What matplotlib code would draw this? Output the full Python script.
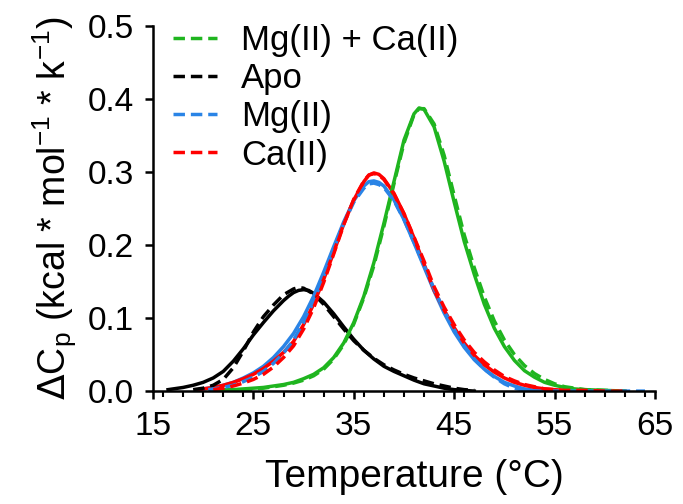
import numpy as np
import matplotlib
matplotlib.use("Agg")
import matplotlib.pyplot as plt
from matplotlib.ticker import MultipleLocator

plt.rcParams['font.family'] = ['Liberation Sans', 'DejaVu Sans']

# Apo
apo_T = [16.5, 17, 18, 19, 20, 21, 22, 23, 24, 25, 26, 27, 28, 28.5, 29, 29.5, 30, 30.5, 31, 32, 33,
         34, 35, 36, 37, 38, 39, 40, 41, 42, 43, 44, 45, 46, 47]
apo_fit = [0.002, 0.003, 0.005, 0.008, 0.012, 0.018, 0.027, 0.041, 0.058, 0.077, 0.094, 0.110, 0.124,
           0.130, 0.135, 0.138, 0.139, 0.138, 0.134, 0.122, 0.106, 0.088, 0.071, 0.056, 0.044, 0.034,
           0.027, 0.021, 0.015, 0.010, 0.007, 0.004, 0.002, 0.001, 0.000]
apo_dash_T = [19, 20, 21, 22, 23, 24, 25, 26, 27, 28, 29, 29.5, 30, 31, 32, 33, 34, 35, 36, 37, 38,
              39, 40, 41, 42, 43, 44, 45, 46, 47]
apo_dash = [0.002, 0.004, 0.008, 0.016, 0.032, 0.055, 0.081, 0.102, 0.118, 0.132, 0.140, 0.142, 0.141,
            0.133, 0.119, 0.102, 0.085, 0.069, 0.056, 0.045, 0.036, 0.029, 0.023, 0.018, 0.014, 0.010,
            0.007, 0.004, 0.002, 0.001]

# Mg(II)
mg_T = [19.7, 20, 21, 22, 23, 24, 25, 26, 27, 28, 29, 30, 31, 32, 33, 34, 35, 36, 36.5, 37, 37.5, 38,
        39, 40, 41, 42, 43, 44, 45, 46, 47, 48, 49, 50, 51, 52, 53, 54]
mg_fit = [0.002, 0.003, 0.005, 0.008, 0.012, 0.018, 0.025, 0.034, 0.046, 0.061, 0.079, 0.102, 0.130,
          0.163, 0.198, 0.232, 0.261, 0.281, 0.287, 0.288, 0.286, 0.281, 0.262, 0.235, 0.203, 0.170,
          0.137, 0.107, 0.081, 0.060, 0.043, 0.030, 0.020, 0.012, 0.007, 0.003, 0.001, 0.000]
mg_dash_T = [20.5, 21, 22, 23, 24, 25, 26, 27, 28, 29, 30, 31, 32, 33, 34, 35, 36, 36.5, 37, 37.5, 38,
             39, 40, 41, 42, 43, 44, 45, 46, 47, 48, 49, 50, 51, 52, 53, 56, 60, 64]
mg_dash = [0.002, 0.003, 0.005, 0.008, 0.013, 0.019, 0.027, 0.038, 0.052, 0.070, 0.094, 0.123, 0.158,
           0.195, 0.230, 0.259, 0.278, 0.284, 0.285, 0.283, 0.279, 0.261, 0.235, 0.204, 0.172, 0.140,
           0.110, 0.084, 0.062, 0.044, 0.030, 0.019, 0.010, 0.004, 0.001, 0.000, 0.000, 0.000, 0.000]

# Ca(II)
ca_T = [19.5, 20, 21, 22, 23, 24, 25, 26, 27, 28, 29, 30, 31, 32, 33, 34, 35, 36, 36.5, 37, 37.5, 38,
        39, 40, 41, 42, 43, 44, 45, 46, 47, 48, 49, 50, 51, 52, 53, 54, 55, 56, 58, 60, 62]
ca_fit = [0.002, 0.003, 0.005, 0.008, 0.012, 0.017, 0.023, 0.031, 0.041, 0.053, 0.068, 0.091, 0.119,
          0.153, 0.190, 0.229, 0.262, 0.287, 0.296, 0.299, 0.297, 0.291, 0.271, 0.243, 0.210, 0.174,
          0.138, 0.111, 0.087, 0.066, 0.049, 0.036, 0.026, 0.018, 0.012, 0.008, 0.005, 0.003, 0.002,
          0.001, 0.001, 0.000, 0.000]
ca_dash_T = [21, 22, 23, 24, 25, 26, 27, 28, 29, 30, 31, 32, 33, 34, 35, 36, 36.5, 37, 37.5, 38, 39,
             40, 41, 42, 43, 44, 45, 46, 47, 48, 49, 50, 51, 52, 53, 54, 56, 58, 60, 62]
ca_dash = [0.002, 0.004, 0.007, 0.011, 0.016, 0.023, 0.033, 0.046, 0.062, 0.085, 0.114, 0.149, 0.188,
           0.228, 0.263, 0.288, 0.296, 0.298, 0.296, 0.290, 0.270, 0.243, 0.211, 0.178, 0.143, 0.115,
           0.091, 0.070, 0.053, 0.040, 0.029, 0.020, 0.014, 0.009, 0.006, 0.003, 0.001, 0.001, 0.000,
           0.000]

# Mg(II) + Ca(II)
mgca_T = [21, 22, 23, 24, 25, 26, 27, 28, 29, 30, 31, 32, 33, 34, 35, 36, 37, 38, 39, 40, 41, 41.5, 42,
          43, 44, 45, 46, 47, 48, 49, 50, 51, 52, 53, 54, 55, 56, 57, 58, 60, 62]
mgca_fit = [0.001, 0.002, 0.002, 0.003, 0.004, 0.005, 0.007, 0.009, 0.012, 0.017, 0.023, 0.032, 0.046,
            0.066, 0.094, 0.130, 0.176, 0.230, 0.287, 0.344, 0.380, 0.388, 0.386, 0.362, 0.315, 0.259,
            0.205, 0.160, 0.119, 0.086, 0.061, 0.042, 0.028, 0.019, 0.012, 0.008, 0.005, 0.003, 0.002,
            0.001, 0.000]
mgca_dash_T = [22, 24, 26, 27, 28, 29, 30, 31, 32, 33, 34, 35, 36, 37, 38, 39, 40, 41, 41.5, 42, 43,
               44, 45, 46, 47, 48, 49, 50, 51, 52, 53, 54, 55, 56, 57, 58, 60, 62]
mgca_dash = [0.001, 0.002, 0.004, 0.006, 0.008, 0.011, 0.015, 0.021, 0.030, 0.044, 0.064, 0.092, 0.128,
             0.172, 0.226, 0.284, 0.340, 0.379, 0.387, 0.387, 0.366, 0.323, 0.268, 0.214, 0.169, 0.129,
             0.096, 0.070, 0.050, 0.035, 0.024, 0.016, 0.010, 0.006, 0.004, 0.002, 0.001, 0.000]

green = '#1fb51f'
blue = '#2a84e6'
red = '#ff0000'
black = '#000000'

fig = plt.figure(figsize=(6.83, 5.04), dpi=100)
ax = fig.add_axes([0.224, 0.224, 0.735, 0.724])

lw = 2.5
dash = (0, (3.3, 1.7))
# fits (solid)
ax.plot(apo_T, apo_fit, color=black, lw=lw)
ax.plot(mg_T, mg_fit, color=blue, lw=lw)
ax.plot(ca_T, ca_fit, color=red, lw=lw)
ax.plot(mgca_T, mgca_fit, color=green, lw=lw)
# data (dashed)
ax.plot(mgca_dash_T, mgca_dash, color=green, lw=lw, ls=dash, label='Mg(II) + Ca(II)')
ax.plot(apo_dash_T, apo_dash, color=black, lw=lw, ls=dash, label='Apo')
ax.plot(mg_dash_T, mg_dash, color=blue, lw=lw, ls=dash, label='Mg(II)')
ax.plot(ca_dash_T, ca_dash, color=red, lw=lw, ls=dash, label='Ca(II)')

ax.set_xlim(15, 65)
ax.set_ylim(0, 0.5)
ax.set_xticks([15, 25, 35, 45, 55, 65])
ax.xaxis.set_minor_locator(MultipleLocator(2))
ax.yaxis.set_major_locator(MultipleLocator(0.1))
ax.yaxis.set_major_formatter(matplotlib.ticker.FormatStrFormatter('%.1f'))

for s in ['top', 'right']:
    ax.spines[s].set_visible(False)
for s in ['left', 'bottom']:
    ax.spines[s].set_linewidth(1.8)
ax.tick_params(which='major', direction='out', length=6, width=1.8, labelsize=24, pad=8)
ax.tick_params(which='minor', direction='out', length=4, width=1.5)

ax.set_xlabel('Temperature (°C)', fontsize=28)
ax.xaxis.set_label_coords(0.52, -0.185)
ax.set_ylabel(r'$\Delta$C$_\mathregular{p}$ (kcal * mol$^\mathregular{-1}$ * k$^\mathregular{-1}$)',
              fontsize=27, labelpad=6)

leg = ax.legend(loc='upper left', bbox_to_anchor=(173 / 683, 1 - 24 / 504),
                bbox_transform=fig.transFigure, frameon=False, fontsize=25,
                handlelength=1.27, handletextpad=0.7, labelspacing=0.15,
                borderpad=0, borderaxespad=0)

fig.savefig('out.png', dpi=100)
